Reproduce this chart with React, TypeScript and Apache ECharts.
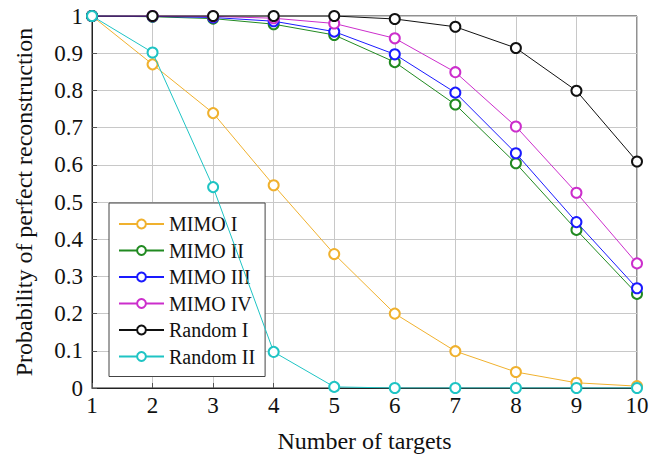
import React, { useEffect, useRef } from "react";
import * as echarts from "echarts";

const categories = [1, 2, 3, 4, 5, 6, 7, 8, 9, 10];
const seriesNames = ["MIMO I", "MIMO II", "MIMO III", "MIMO IV", "Random I", "Random II"];
const mimo1 = [1, 0.87, 0.739, 0.545, 0.36, 0.2, 0.099, 0.043, 0.014, 0.005];
const mimo2 = [1, 0.998, 0.993, 0.978, 0.949, 0.876, 0.762, 0.604, 0.425, 0.253];
const mimo3 = [1, 0.999, 0.996, 0.986, 0.958, 0.897, 0.794, 0.631, 0.446, 0.268];
const mimo4 = [1, 1, 0.999, 0.994, 0.98, 0.94, 0.849, 0.703, 0.525, 0.335];
const random1 = [1, 1, 1, 1, 1, 0.992, 0.971, 0.914, 0.799, 0.609];
const random2 = [1, 0.902, 0.54, 0.097, 0.003, 0, 0, 0, 0, 0];
const colors = ["#f0b12e", "#218a21", "#1a1aff", "#cc2ecc", "#111111", "#1fc4c4"];
const yTicks = [0, 0.1, 0.2, 0.3, 0.4, 0.5, 0.6, 0.7, 0.8, 0.9, 1];

export default function App() {
  const ref = useRef<HTMLDivElement>(null);
  useEffect(() => {
    if (!ref.current) return;
    const chart = echarts.init(ref.current, undefined, { renderer: "svg" });
    const data = [mimo1, mimo2, mimo3, mimo4, random1, random2];
    const font = "Times New Roman";
    chart.setOption({
      animation: false,
      backgroundColor: "#fff",
      textStyle: { fontFamily: font },
      grid: {
        left: 92,
        right: 30,
        top: 16,
        bottom: 67,
        containLabel: false,
        outerBoundsMode: "none",
        show: true,
        borderColor: "#222",
        borderWidth: 1,
        backgroundColor: "transparent",
      },
      legend: {
        orient: "vertical",
        left: 109,
        top: 203,
        data: seriesNames,
        backgroundColor: "#fff",
        borderColor: "#444",
        borderWidth: 1,
        padding: [11, 10, 10, 9],
        itemWidth: 45,
        itemHeight: 11,
        itemGap: 6.5,
        textStyle: { fontFamily: font, fontSize: 20, color: "#111" },
      },
      xAxis: {
        type: "value",
        min: 1,
        max: 10,
        interval: 1,
        name: "Number of targets",
        nameLocation: "middle",
        nameGap: 41,
        nameTextStyle: { fontFamily: font, fontSize: 24, color: "#111" },
        axisLine: { show: true, lineStyle: { color: "#222" } },
        axisTick: { show: true, inside: true, length: 5, lineStyle: { color: "#555" } },
        axisLabel: { fontFamily: font, fontSize: 23, color: "#111", margin: 6 },
        splitLine: { show: true, lineStyle: { color: "#c8c8c8", width: 1 } },
      },
      yAxis: {
        type: "value",
        min: 0,
        max: 1,
        interval: 0.1,
        name: "Probability of perfect reconstruction",
        nameLocation: "middle",
        nameGap: 56,
        nameTextStyle: { fontFamily: font, fontSize: 24, color: "#111" },
        axisLine: { show: true, lineStyle: { color: "#222" } },
        axisTick: { show: true, inside: true, length: 5, lineStyle: { color: "#555" } },
        axisLabel: {
          fontFamily: font,
          fontSize: 23,
          color: "#111",
          margin: 9,
          formatter: (v: number) => {
            const t = yTicks.find((y) => Math.abs(y - v) < 1e-6);
            return t === undefined ? "" : String(t);
          },
        },
        splitLine: { show: true, lineStyle: { color: "#c8c8c8", width: 1 } },
      },
      series: seriesNames.map((name, i) => ({
        name,
        type: "line",
        data: categories.map((c, j) => [c, data[i][j]]),
        symbol: "emptyCircle",
        symbolSize: 10,
        color: colors[i],
        lineStyle: { width: 1, color: colors[i] },
        itemStyle: { color: colors[i], borderColor: colors[i], borderWidth: 1 },
        z: 2 + i,
      })),
    });
    return () => chart.dispose();
  }, []);
  return <div ref={ref} style={{ width: 667, height: 455, position: "absolute", left: 0, top: 0 }} />;
}
